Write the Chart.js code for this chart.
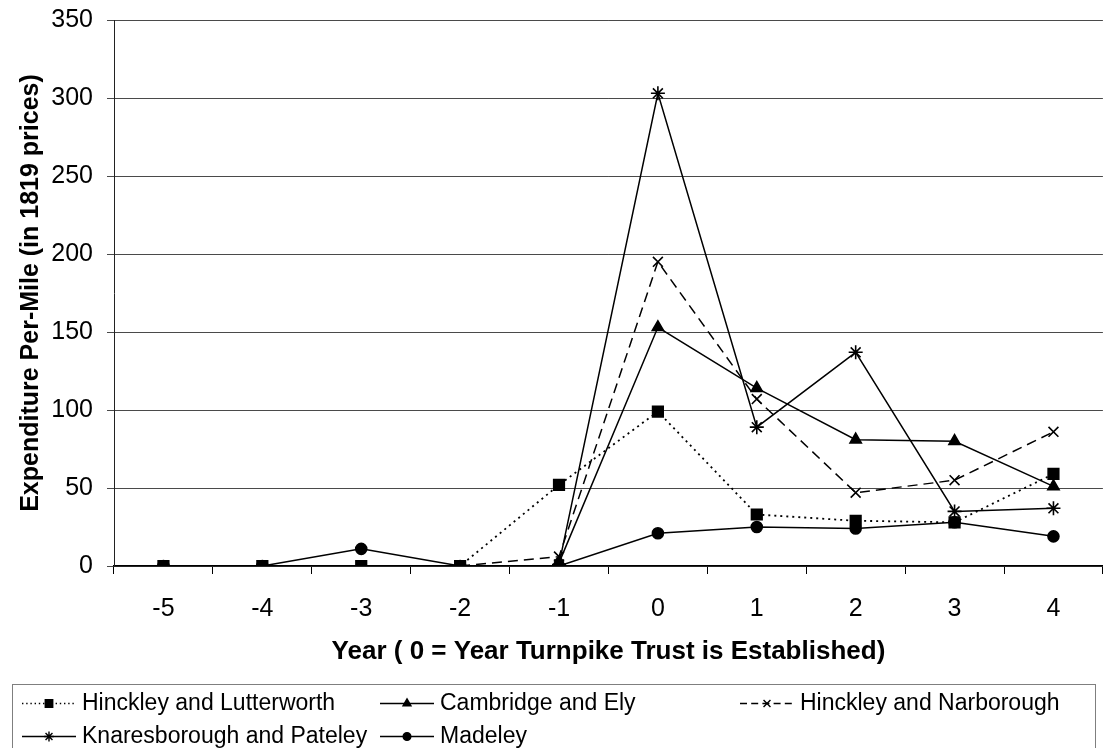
<!DOCTYPE html>
<html>
<head>
<meta charset="utf-8">
<script src="https://cdn.jsdelivr.net/npm/chart.js@4/dist/chart.umd.min.js"></script>
<style>
  html, body { margin: 0; padding: 0; background: #fff; overflow: hidden; width: 1103px; height: 748px; }
  #wrap { width: 1112px; height: 748px; position: relative; }
  canvas { display: block; }
</style>
</head>
<body>
<div id="wrap"><canvas id="chart" width="1112" height="748"></canvas></div>
<script>
// Years relative to the establishment of each turnpike trust
const years = ['-5', '-4', '-3', '-2', '-1', '0', '1', '2', '3', '4'];

// Expenditure per mile, in 1819 prices
const hinckleyLutterworth = [0, 0, 0, 0, 52, 99, 33, 29, 28, 59];
const cambridgeEly        = [null, null, null, null, 2, 153, 114, 81, 80, 51];
const hinckleyNarborough  = [null, null, null, 0, 6, 195, 107, 47, 55, 86];
const knaresboroughPateley = [null, null, null, null, 1, 303, 89, 137, 35, 37];
const madeley             = [0, 0, 11, 0, 0, 21, 25, 24, 28, 19];

const seriesNames = [
  'Hinckley and Lutterworth',
  'Cambridge and Ely',
  'Hinckley and Narborough',
  'Knaresborough and Pateley',
  'Madeley'
];

const yTickValues = [0, 50, 100, 150, 200, 250, 300, 350];

const FONT = '"Liberation Sans", Arial, Helvetica, sans-serif';

function series(label, data, pointStyle, radius, dash, width) {
  return {
    label: label,
    data: data,
    borderColor: '#000',
    backgroundColor: '#000',
    borderWidth: width,
    borderDash: dash,
    pointStyle: pointStyle,
    pointRadius: radius,
    pointBorderWidth: 1.6,
    pointBackgroundColor: '#000',
    pointBorderColor: '#000',
    tension: 0,
    fill: false
  };
}

// Boxed two-row legend drawn underneath the axis title
const legendSlots = [[22, 703], [380, 703], [740, 703], [22, 736], [380, 736]];

function drawMarker(ctx, style, r, x, y) {
  if (Chart.helpers && Chart.helpers.drawPoint) {
    Chart.helpers.drawPoint(ctx, { pointStyle: style, radius: r, rotation: 0, borderWidth: 1.3 }, x, y);
    return;
  }
  ctx.beginPath();
  ctx.arc(x, y, r, 0, Math.PI * 2);
  ctx.fill();
}

const boxLegend = {
  id: 'boxLegend',
  afterDraw(chart) {
    const ctx = chart.ctx;
    ctx.save();
    ctx.strokeStyle = '#7f7f7f';
    ctx.lineWidth = 1;
    ctx.strokeRect(12.5, 684.5, 1083, 90);
    ctx.font = '23px ' + FONT;
    ctx.textBaseline = 'middle';
    ctx.textAlign = 'left';
    chart.data.datasets.forEach((ds, i) => {
      const [x, y] = legendSlots[i];
      ctx.strokeStyle = '#000';
      ctx.fillStyle = '#000';
      ctx.lineWidth = 1.4;
      ctx.setLineDash(ds.borderDash && ds.borderDash.length ? ds.borderDash.map(v => v * 0.7) : []);
      ctx.beginPath();
      ctx.moveTo(x, y + 0.5);
      ctx.lineTo(x + 54, y + 0.5);
      ctx.stroke();
      ctx.setLineDash([]);
      drawMarker(ctx, ds.pointStyle, ds.pointRadius * 0.7, x + 27, y + 0.5);
      ctx.fillText(ds.label, x + 60, y + 1);
    });
    ctx.restore();
  }
};

new Chart(document.getElementById('chart'), {
  type: 'line',
  data: {
    labels: years,
    datasets: [
      series(seriesNames[0], hinckleyLutterworth, 'rect', 7.5, [2, 4], 1.8),
      series(seriesNames[1], cambridgeEly, 'triangle', 6.5, [], 1.5),
      series(seriesNames[2], hinckleyNarborough, 'crossRot', 7, [10, 6], 1.5),
      series(seriesNames[3], knaresboroughPateley, 'star', 7, [], 1.5),
      series(seriesNames[4], madeley, 'circle', 5.5, [], 1.5)
    ]
  },
  options: {
    responsive: false,
    animation: false,
    devicePixelRatio: 1,
    layout: { padding: { top: 20, left: 0, right: 1, bottom: 64 } },
    plugins: {
      legend: { display: false },
      tooltip: { enabled: false }
    },
    scales: {
      x: {
        type: 'category',
        offset: true,
        grid: {
          offset: true,
          drawOnChartArea: false,
          drawTicks: true,
          tickLength: 8,
          color: '#000',
          lineWidth: 1
        },
        border: { color: '#000', width: 1.5 },
        ticks: {
          color: '#000',
          font: { family: FONT, size: 25 },
          padding: 20,
          maxRotation: 0,
          autoSkip: false
        },
        title: {
          display: true,
          text: 'Year ( 0 = Year Turnpike Trust is Established)',
          color: '#000',
          font: { family: FONT, size: 26, weight: 'bold' },
          padding: { top: 0, bottom: 17 }
        },
        afterFit(scale) {
          scale.height = 118;
          scale.paddingLeft = 0;
          scale.paddingRight = 0;
        }
      },
      y: {
        min: 0,
        max: 350,
        afterBuildTicks(scale) { scale.ticks = yTickValues.map(v => ({ value: v })); },
        grid: {
          color: '#4a4a4a',
          lineWidth: 1,
          tickLength: 7,
          drawTicks: true
        },
        border: { color: '#222', width: 1 },
        ticks: {
          color: '#000',
          font: { family: FONT, size: 25 },
          padding: 14
        },
        title: {
          display: true,
          text: 'Expenditure Per-Mile (in 1819 prices)',
          color: '#000',
          font: { family: FONT, size: 25, weight: 'bold' },
          padding: { top: 16, bottom: 0 }
        },
        afterFit(scale) {
          scale.width = 114;
          scale.paddingTop = 0;
          scale.paddingBottom = 0;
        }
      }
    }
  },
  plugins: [boxLegend]
});
</script>
</body>
</html>
